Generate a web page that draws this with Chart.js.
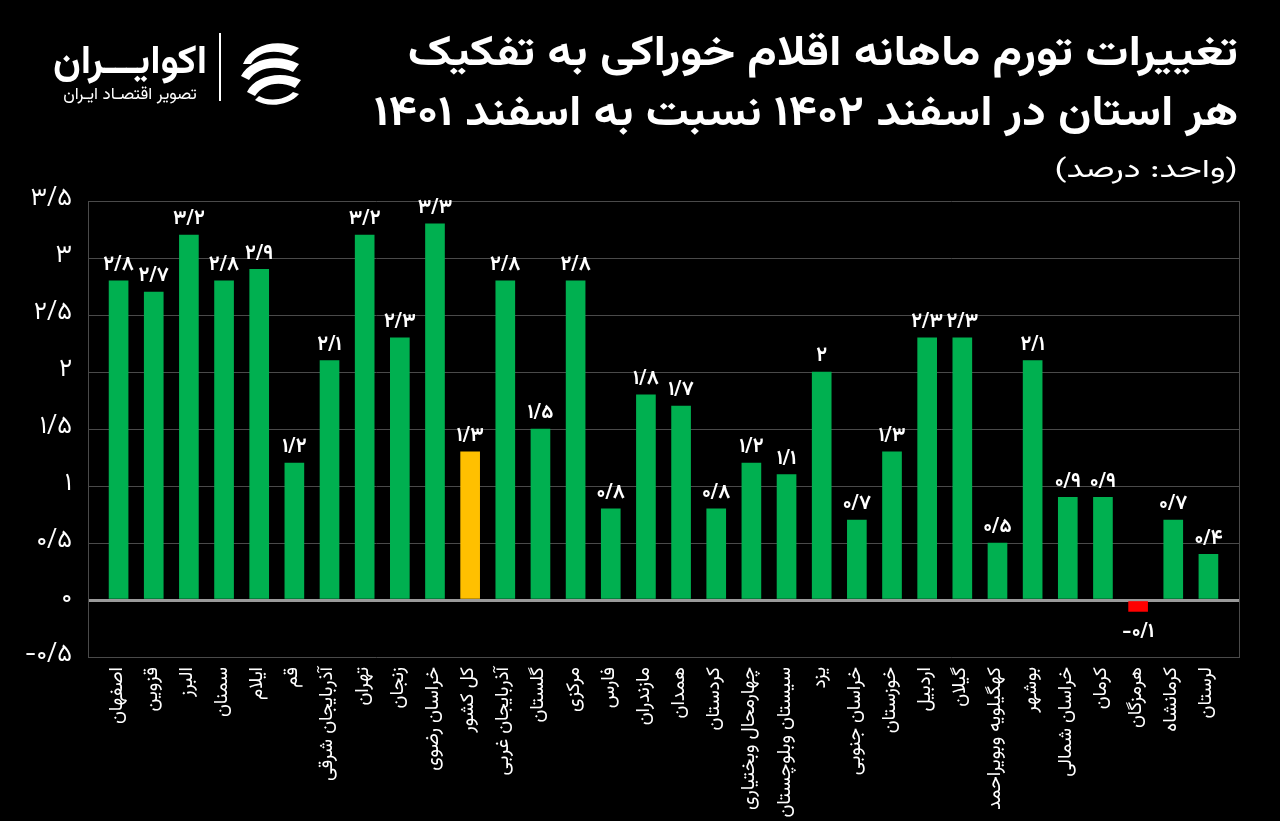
<!DOCTYPE html>
<html>
<head>
<meta charset="utf-8">
<script src="https://cdn.jsdelivr.net/npm/chart.js@4/dist/chart.umd.min.js"></script>
<style>
  html, body { margin: 0; padding: 0; background: #000; }
  body { width: 1280px; height: 821px; position: relative; overflow: hidden;
         font-family: "Vazirmatn", "Noto Sans Arabic", "DejaVu Sans", sans-serif; color: #fff; }
  #chart_wrap { position: absolute; left: 0; top: 0; width: 1280px; height: 821px; }
  .title { position: absolute; right: 42px; direction: rtl; text-align: right; font-weight: bold; white-space: nowrap;
           transform-origin: right center; }
  #t1 { top: 22px; font-size: 42px; transform: scaleX(1.15); }
  #t2 { top: 82px; font-size: 42px; transform: scaleX(1.14); }
  #unit { top: 150px; font-size: 26px; font-weight: normal; transform: scaleX(1.35); }
  #logo_name { position: absolute; left: 48px; top: 32px; width: 164px; text-align: center; direction: rtl;
               font-size: 40px; font-weight: bold; }
  #logo_sub { position: absolute; left: 50px; top: 82px; width: 160px; text-align: center; direction: rtl; font-size: 17px; }
  #logo_sep { position: absolute; left: 219px; top: 33px; width: 2px; height: 68px; background: #fff; }
  #logo_icon { position: absolute; left: 233px; top: 34px; }
</style>
</head>
<body>
<div id="chart_wrap"><canvas id="chart"></canvas></div>

<div id="logo_name">اکوایـــران</div>
<div id="logo_sub">تصویر اقتصـاد ایـران</div>
<div id="logo_sep"></div>
<svg id="logo_icon" width="74" height="74" viewBox="0 0 74 74">
  <path d="M10 30 C 18 10, 45 4, 66 14 L 58 22 C 42 14, 24 18, 18 30 Z" fill="#fff"/>
  <path d="M8 42 C 16 26, 44 18, 66 30 L 60 38 C 42 30, 24 34, 16 46 Z" fill="#fff"/>
  <path d="M14 58 C 22 42, 48 36, 68 46 L 62 54 C 46 46, 30 50, 22 62 Z" fill="#fff"/>
  <path d="M22 66 C 34 74, 56 72, 66 60 L 60 58 C 52 66, 36 68, 26 62 Z" fill="#fff"/>
</svg>

<div class="title" id="t1">تغییرات تورم ماهانه اقلام خوراکی به تفکیک</div>
<div class="title" id="t2">هر استان در اسفند ۱۴۰۲ نسبت به اسفند ۱۴۰۱</div>
<div class="title" id="unit">(واحد: درصد)</div>

<script>
const provinces = ["اصفهان", "قزوین", "البرز", "سمنان", "ایلام", "قم", "آذربایجان شرقی", "تهران", "زنجان", "خراسان رضوی",
    "کل کشور", "آذربایجان غربی", "گلستان", "مرکزی", "فارس", "مازندران", "همدان", "کردستان", "چهارمحال وبختیاری",
    "سیستان وبلوچستان", "یزد", "خراسان جنوبی", "خوزستان", "اردبیل", "گیلان", "کهگیلویه وبویراحمد", "بوشهر",
    "خراسان شمالی", "کرمان", "هرمزگان", "کرمانشاه", "لرستان"]
const inflation = [2.8, 2.7, 3.2, 2.8, 2.9, 1.2, 2.1, 3.2, 2.3, 3.3,
    1.3, 2.8, 1.5, 2.8, 0.8, 1.8, 1.7, 0.8, 1.2,
    1.1, 2, 0.7, 1.3, 2.3, 2.3, 0.5, 2.1,
    0.9, 0.9, -0.1, 0.7, 0.4]
const y_min = -0.5
const y_max = 3.5
const y_step = 0.5

const font_family = '"Vazirmatn", "Noto Sans Arabic", "DejaVu Sans", sans-serif'
const fa_digits = "۰۱۲۳۴۵۶۷۸۹"

function to_fa(v) {
    let s = String(Math.round(v * 10) / 10)
    return s.replace(".", "/").replace(/\d/g, d => fa_digits[d])
}

function bar_color(i) {
    if (provinces[i] === "کل کشور") return "#ffc000"
    if (inflation[i] < 0) return "#ff0000"
    return "#00b050"
}

const points = inflation.map((v, i) => ({ x: i, y: v }))

// value labels above / below bars
const value_labels = {
    id: "value_labels",
    afterDatasetsDraw(chart) {
        const ctx = chart.ctx
        const meta = chart.getDatasetMeta(0)
        ctx.save()
        ctx.fillStyle = "#fff"
        ctx.font = "bold 20px " + font_family
        ctx.textAlign = "center"
        meta.data.forEach((bar, i) => {
            const v = inflation[i]
            if (v >= 0) {
                ctx.textBaseline = "bottom"
                ctx.fillText(to_fa(v), bar.x, bar.y - 4)
            } else {
                ctx.textBaseline = "top"
                ctx.fillText(to_fa(v), bar.x, bar.y + 12)
            }
        })
        ctx.restore()
    }
}

const ctx = document.getElementById("chart").getContext("2d")
const chart = new Chart(ctx, {
    type: "bar",
    data: {
        datasets: [{
            data: points,
            backgroundColor: inflation.map((v, i) => bar_color(i)),
            borderWidth: 0,
            barThickness: 19
        }]
    },
    options: {
        responsive: true,
        maintainAspectRatio: false,
        animation: false,
        layout: { padding: { top: 201, right: 41, left: 0, bottom: 0 } },
        plugins: {
            legend: { display: false },
            tooltip: { enabled: false }
        },
        scales: {
            x: {
                type: "linear",
                offset: false,
                min: -0.87,
                max: 31.87,
                grid: { display: false },
                border: { display: false },
                afterFit: (scale) => { scale.height = 164 },
                ticks: {
                    stepSize: 1,
                    includeBounds: false,
                    autoSkip: false,
                    minRotation: 90,
                    maxRotation: 90,
                    padding: 2,
                    color: "#fff",
                    font: { family: font_family, size: 19 },
                    callback: (value) => Number.isInteger(value) ? provinces[value] : ""
                }
            },
            y: {
                min: y_min,
                max: y_max,
                afterFit: (scale) => { scale.width = 88 },
                grid: {
                    drawTicks: false,
                    color: (c) => c.tick && c.tick.value === 0 ? "#9a9a9a" : "#4a4a4a",
                    lineWidth: (c) => c.tick && c.tick.value === 0 ? 3 : 1
                },
                border: { display: true, color: "#4a4a4a" },
                ticks: {
                    stepSize: y_step,
                    padding: 16,
                    color: "#fff",
                    font: { family: font_family, size: 25 },
                    callback: (value) => value < 0 ? "-" + to_fa(-value) : to_fa(value)
                }
            },
            y2: {
                position: "right",
                min: y_min,
                max: y_max,
                afterFit: (scale) => { scale.width = 0 },
                grid: { display: false },
                border: { display: true, color: "#4a4a4a" },
                ticks: { display: false }
            }
        }
    },
    plugins: [value_labels]
})
</script>
</body>
</html>
